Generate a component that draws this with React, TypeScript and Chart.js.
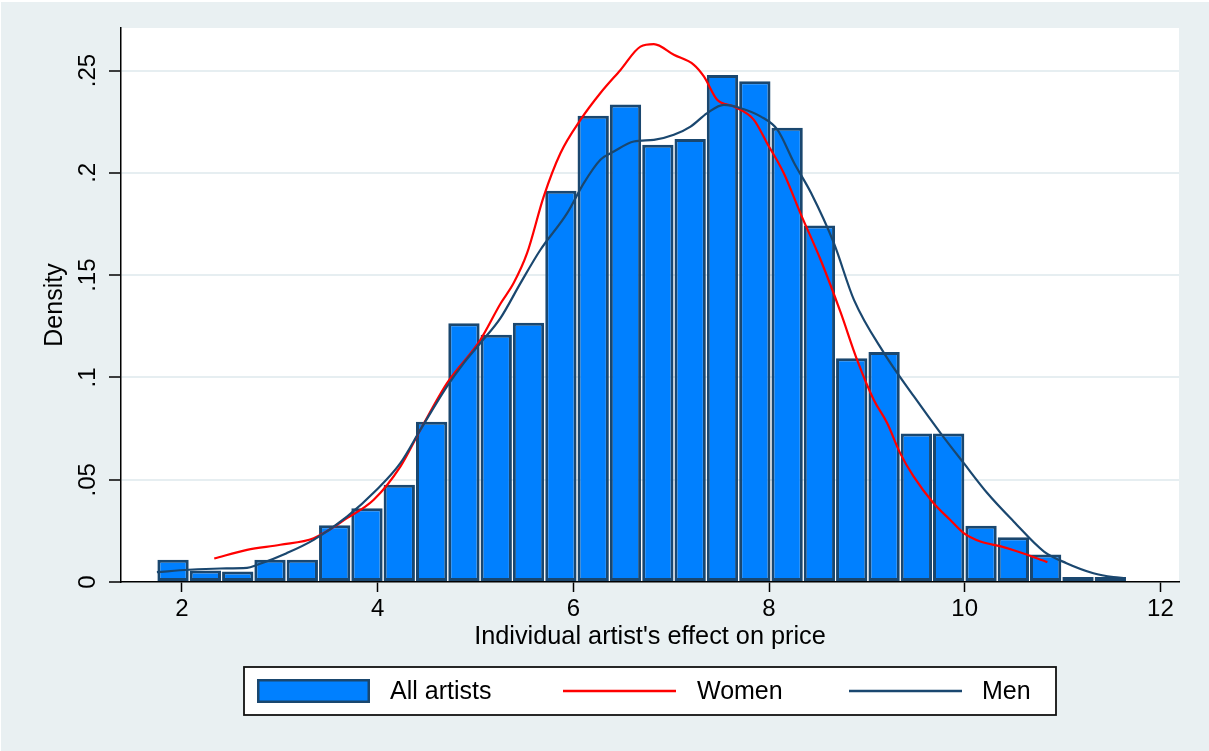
import React, { useEffect, useRef } from "react";
import { Chart, registerables } from "chart.js";

Chart.register(...registerables);

// ---------- data ----------
const seriesLabels = ["All artists", "Women", "Men"];
const xTitle = "Individual artist's effect on price";
const yTitle = "Density";

const binCenters = [
  1.909, 2.239, 2.570, 2.900, 3.230, 3.561, 3.891, 4.221, 4.552, 4.882,
  5.212, 5.542, 5.873, 6.203, 6.533, 6.864, 7.194, 7.524, 7.855, 8.185,
  8.515, 8.845, 9.176, 9.506, 9.836, 10.167, 10.497, 10.827, 11.158, 11.488,
];
const allArtists = [
  0.0109, 0.0056, 0.0051, 0.0109, 0.0109, 0.0278, 0.0361, 0.0475, 0.0783, 0.1265,
  0.1208, 0.1267, 0.1912, 0.2279, 0.2334, 0.2137, 0.2166, 0.2478, 0.2448, 0.2221,
  0.1742, 0.1094, 0.1124, 0.0726, 0.0726, 0.0275, 0.0219, 0.0134, 0.0025, 0.0025,
];

const womenX = [
  2.33, 2.665, 3.005, 3.346, 3.687, 3.96, 4.232, 4.437, 4.709, 5.05,
  5.255, 5.39, 5.527, 5.697, 5.868, 6.073, 6.277, 6.482, 6.686, 6.823,
  7.027, 7.232, 7.334, 7.47, 7.64, 7.845, 7.98, 8.15, 8.32, 8.527,
  8.73, 8.9, 9.07, 9.207, 9.34, 9.477, 9.68, 9.85, 9.99, 10.16,
  10.37, 10.54, 10.845,
];
const womenY = [
  0.0115, 0.0157, 0.0182, 0.0214, 0.0312, 0.0402, 0.0564, 0.0744, 0.0972, 0.1184,
  0.1360, 0.1461, 0.1607, 0.1884, 0.2096, 0.2259, 0.2390, 0.2503, 0.2617, 0.2629,
  0.2577, 0.2528, 0.2471, 0.2357, 0.2324, 0.2259, 0.2145, 0.1999, 0.1803, 0.1575,
  0.1320, 0.1086, 0.0891, 0.0777, 0.0630, 0.0516, 0.0386, 0.0304, 0.0239, 0.0198,
  0.0174, 0.0149, 0.0097,
];

const menX = [
  1.744, 2.07, 2.39, 2.665, 2.77, 3.07, 3.346, 3.687, 3.99, 4.232,
  4.437, 4.709, 4.88, 5.05, 5.255, 5.46, 5.664, 5.937, 6.107, 6.277,
  6.414, 6.618, 6.823, 7.027, 7.198, 7.368, 7.538, 7.712, 7.917, 8.087,
  8.258, 8.43, 8.663, 8.868, 9.175, 9.481, 9.753, 9.99, 10.23, 10.5,
  10.81, 11.04, 11.315, 11.52, 11.64,
];
const menY = [
  0.0048, 0.0060, 0.0066, 0.0069, 0.0084, 0.0141, 0.0206, 0.0320, 0.0451, 0.0581,
  0.0744, 0.0956, 0.1070, 0.1168, 0.1290, 0.1461, 0.1624, 0.1803, 0.1950, 0.2064,
  0.2104, 0.2153, 0.2161, 0.2186, 0.2226, 0.2292, 0.2332, 0.2316, 0.2275, 0.2210,
  0.2047, 0.1901, 0.1656, 0.1379, 0.1119, 0.0907, 0.0728, 0.0581, 0.0435, 0.0296,
  0.0149, 0.0092, 0.0043, 0.0024, 0.0019,
];

const xTicks = [2, 4, 6, 8, 10, 12];
const xTickLabels = ["2", "4", "6", "8", "10", "12"];
const yTicks = [0, 0.05, 0.1, 0.15, 0.2, 0.25];
const yTickLabels = ["0", ".05", ".1", ".15", ".2", ".25"];

// ---------- style ----------
const FONT = "'Liberation Sans', Arial, sans-serif";
const BG = "#E9F0F2";
const GRID = "#E6EEF1";
const BLUE = "#0080FF";
const NAVY = "#1A476F";
const RED = "#FF0000";

const bgPlugin = {
  id: "stataBg",
  beforeDraw(chart: any) {
    const { ctx, width, height, chartArea } = chart;
    ctx.save();
    ctx.fillStyle = "#FFFFFF";
    ctx.fillRect(0, 0, width, height);
    ctx.fillStyle = BG;
    ctx.fillRect(1, 2, width - 1, height - 2);
    ctx.fillStyle = "#FFFFFF";
    ctx.fillRect(
      chartArea.left,
      chartArea.top,
      chartArea.right - chartArea.left,
      chartArea.bottom - chartArea.top
    );
    ctx.restore();
  },
};

const legendPlugin = {
  id: "stataLegend",
  afterDraw(chart: any) {
    const { ctx } = chart;
    const ds = chart.data.datasets;
    const bx = 244, by = 667, bw = 812, bh = 48;
    ctx.save();
    ctx.fillStyle = "#FFFFFF";
    ctx.fillRect(bx, by, bw, bh);
    ctx.strokeStyle = "#111111";
    ctx.lineWidth = 1.8;
    ctx.strokeRect(bx, by, bw, bh);
    const cy = by + bh / 2;
    const keyX = [257, 563, 849];
    const keyW = 113;
    const textX = [390, 697, 982];
    ctx.font = `25px ${FONT}`;
    ctx.textBaseline = "middle";
    ctx.textAlign = "left";
    seriesLabels.forEach((label, i) => {
      const d = ds.find((q: any) => q.label === label);
      if (i === 0) {
        ctx.fillStyle = d.backgroundColor;
        ctx.fillRect(keyX[i], cy - 12, keyW, 24);
        ctx.strokeStyle = d.borderColor;
        ctx.lineWidth = 2.5;
        ctx.strokeRect(keyX[i] + 1.25, cy - 10.75, keyW - 2.5, 21.5);
      } else {
        ctx.strokeStyle = d.borderColor;
        ctx.lineWidth = 2.5;
        ctx.beginPath();
        ctx.moveTo(keyX[i], cy);
        ctx.lineTo(keyX[i] + keyW, cy);
        ctx.stroke();
      }
      ctx.fillStyle = "#000000";
      ctx.fillText(label, textX[i], cy + 1);
    });
    ctx.restore();
  },
};

export default function App() {
  const canvasRef = useRef<HTMLCanvasElement | null>(null);

  useEffect(() => {
    const canvas = canvasRef.current;
    if (!canvas) return;
    const chart = new Chart(canvas, {
      type: "bar",
      data: {
        datasets: [
          {
            type: "bar",
            label: seriesLabels[0],
            data: binCenters.map((x, i) => ({ x, y: allArtists[i] })),
            backgroundColor: BLUE,
            borderColor: NAVY,
            borderWidth: 3,
            borderSkipped: false,
            inflateAmount: 0,
            barPercentage: 0.97,
            categoryPercentage: 1,
            order: 3,
          } as any,
          {
            type: "line",
            label: seriesLabels[1],
            data: womenX.map((x, i) => ({ x, y: womenY[i] })),
            borderColor: RED,
            backgroundColor: RED,
            borderWidth: 2.2,
            pointRadius: 0,
            fill: false,
            cubicInterpolationMode: "monotone",
            order: 2,
          } as any,
          {
            type: "line",
            label: seriesLabels[2],
            data: menX.map((x, i) => ({ x, y: menY[i] })),
            borderColor: NAVY,
            backgroundColor: NAVY,
            borderWidth: 2.2,
            pointRadius: 0,
            fill: false,
            cubicInterpolationMode: "monotone",
            order: 1,
          } as any,
        ],
      },
      options: {
        responsive: false,
        animation: false,
        devicePixelRatio: 1,
        events: [],
        layout: { padding: { left: 0, top: 28, right: 30, bottom: 98.5 } },
        plugins: {
          legend: { display: false },
          tooltip: { enabled: false },
        },
        scales: {
          x: {
            type: "linear",
            min: 1.377,
            max: 12.19,
            offset: false,
            afterBuildTicks: (s: any) => {
              s.ticks = xTicks.map((v) => ({ value: v }));
            },
            afterFit: (s: any) => {
              s.height = 70.5;
            },
            grid: {
              display: true,
              drawOnChartArea: false,
              drawTicks: true,
              tickLength: 10,
              tickColor: "#000000",
              tickWidth: 1.5,
              offset: false,
            },
            border: { display: true, color: "#000000", width: 1.5 },
            ticks: {
              autoSkip: false,
              maxRotation: 0,
              minRotation: 0,
              padding: 3,
              color: "#000000",
              font: { family: FONT, size: 24 },
              callback: (v: any) => {
                const k = xTicks.indexOf(Number(v));
                return k >= 0 ? xTickLabels[k] : "";
              },
            },
            title: {
              display: true,
              text: xTitle,
              color: "#000000",
              font: { family: FONT, size: 25.3 },
              padding: { top: 0, bottom: 0 },
            },
          } as any,
          y: {
            type: "linear",
            min: 0,
            max: 0.2708,
            afterBuildTicks: (s: any) => {
              s.ticks = yTicks.map((v) => ({ value: v }));
            },
            afterFit: (s: any) => {
              s.width = 121;
            },
            grid: {
              color: (c: any) => (c.tick && c.tick.value === 0 ? "rgba(0,0,0,0)" : GRID),
              lineWidth: 2,
              drawTicks: true,
              tickLength: 12,
              tickColor: "#000000",
              tickWidth: 1.5,
            },
            border: { display: true, color: "#000000", width: 1.5 },
            ticks: {
              autoSkip: false,
              minRotation: 90,
              maxRotation: 90,
              crossAlign: "center",
              padding: 4,
              color: "#000000",
              font: { family: FONT, size: 24 },
              callback: (v: any) => {
                const k = yTicks.findIndex((t) => Math.abs(t - Number(v)) < 1e-9);
                return k >= 0 ? yTickLabels[k] : "";
              },
            },
            title: {
              display: true,
              text: yTitle,
              color: "#000000",
              font: { family: FONT, size: 25 },
              padding: { top: 40, bottom: 0 },
            },
          } as any,
        },
      },
      plugins: [bgPlugin, legendPlugin],
    });
    return () => chart.destroy();
  }, []);

  return (
    <div style={{ position: "fixed", left: 0, top: 0, width: 1209, height: 751 }}>
      <canvas ref={canvasRef} width={1209} height={751} />
    </div>
  );
}
